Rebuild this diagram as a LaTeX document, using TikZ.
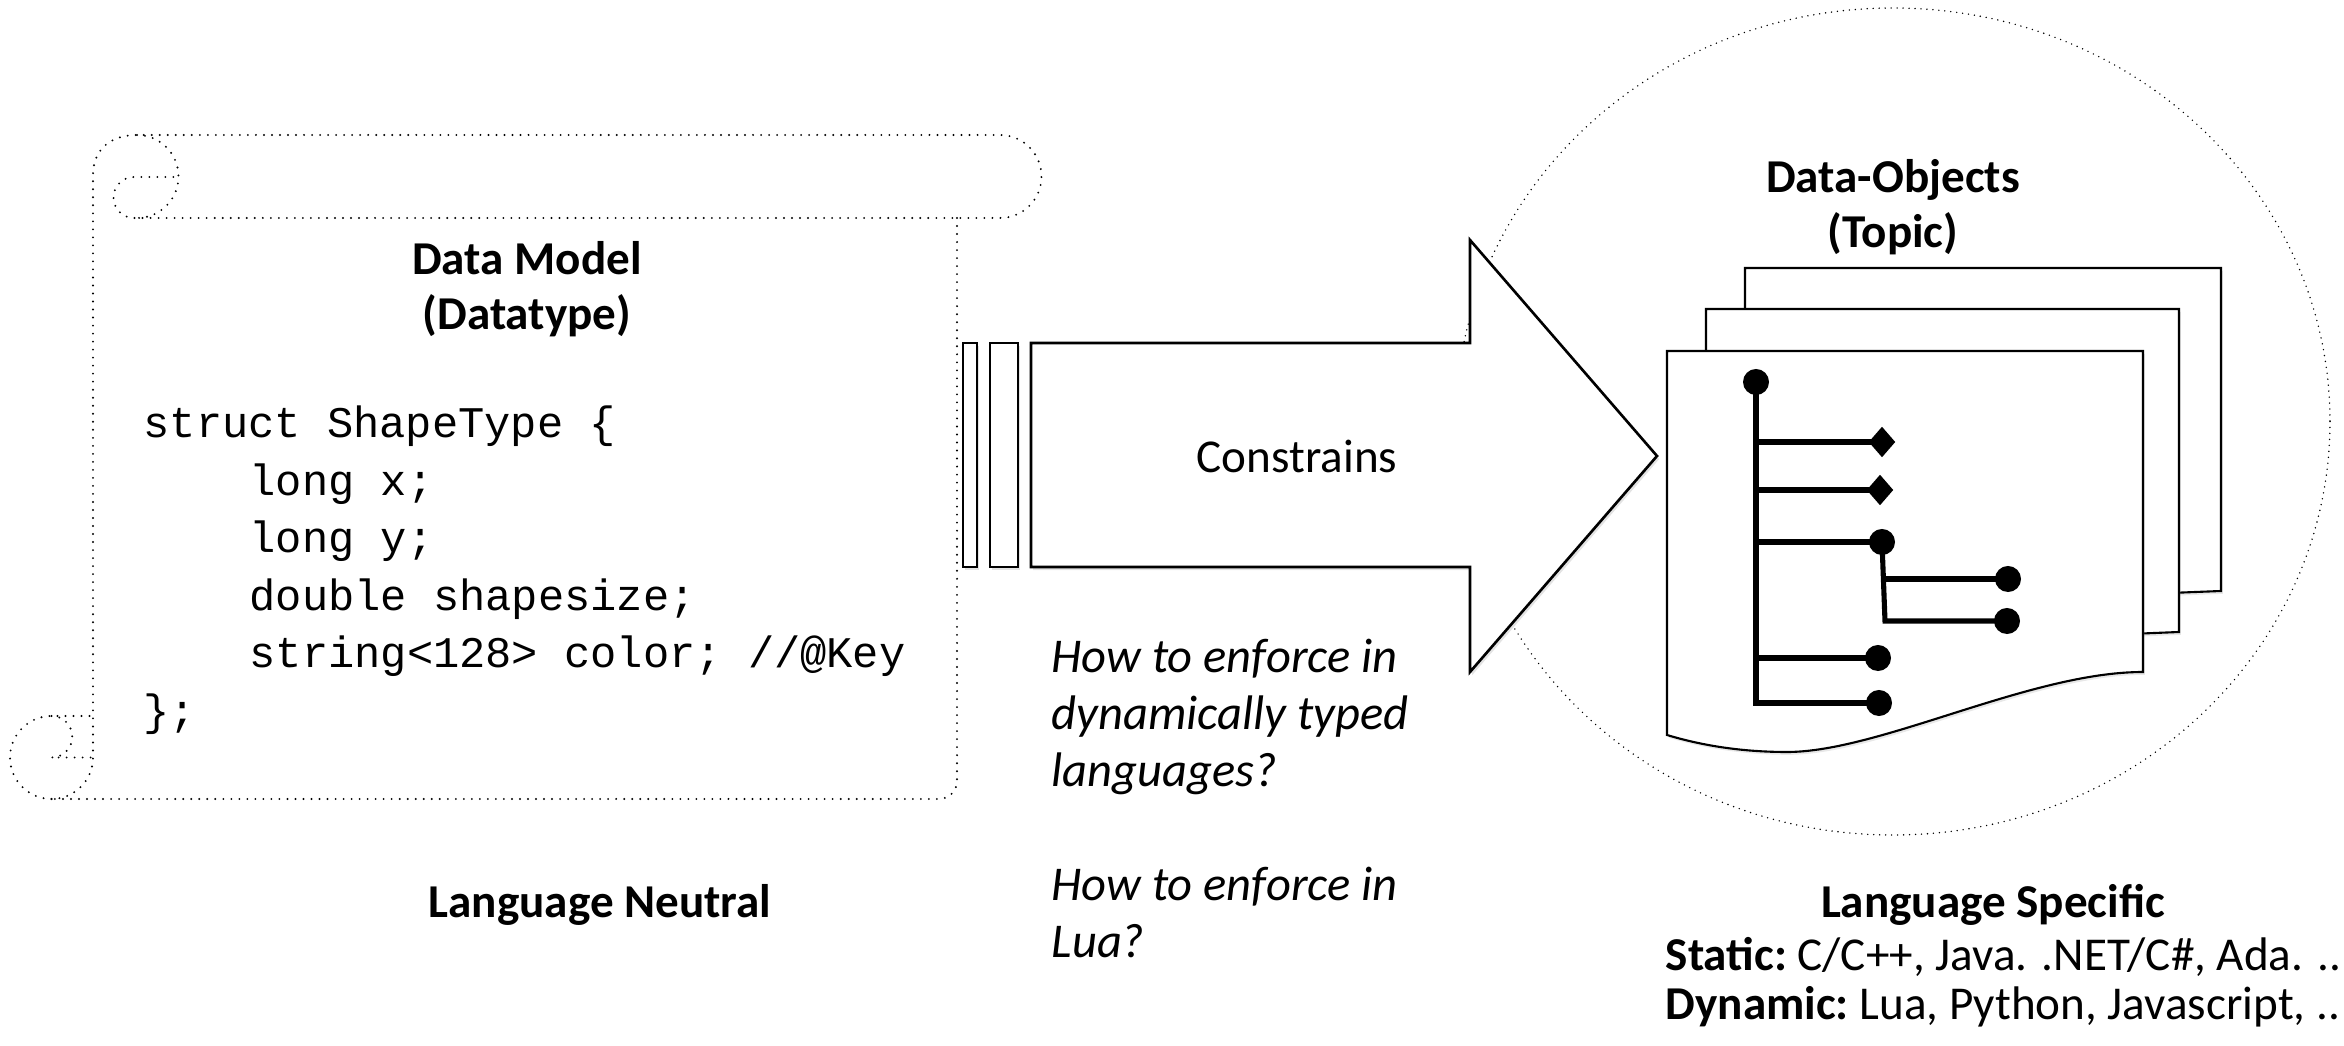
\documentclass[tikz,border=0pt]{standalone}
\usepackage{fontspec}
\setmainfont{Carlito}
\newfontfamily\codefont{Liberation Mono}
\usetikzlibrary{shapes.geometric,shadows}
\begin{document}
\begin{tikzpicture}[x=0.01cm,y=-0.01cm,
  scrolldots/.style={line width=0.6pt, dash pattern=on 0pt off 2.28pt, line cap=round},
  ringdots/.style={line width=0.45pt, dash pattern=on 0pt off 1.7pt, line cap=round},
  arrowline/.style={draw=black, line width=0.75pt, fill=white, drop shadow={opacity=0.22, shadow xshift=0.6pt, shadow yshift=-0.9pt}},
  docpage/.style={draw=black, line width=0.6pt, fill=white, drop shadow={opacity=0.18, shadow xshift=0.5pt, shadow yshift=-0.8pt}},
  branch/.style={line width=1.45pt},
  leafdot/.style={circle, fill=black, inner sep=0pt, minimum size=0.26cm},
  leafdiam/.style={diamond, fill=black, inner sep=0pt, minimum width=0.27cm, minimum height=0.31cm},
  title/.style={font=\fontsize{13.4pt}{16pt}\selectfont\bfseries, anchor=base, inner sep=0pt},
  plain/.style={font=\fontsize{13.4pt}{16pt}\selectfont, anchor=base west, inner sep=0pt},
  ital/.style={font=\fontsize{13.8pt}{16pt}\selectfont\itshape, anchor=base west, inner sep=0pt},
  code/.style={font=\fontsize{12.43pt}{16pt}\codefont, anchor=base west, inner sep=0pt},
]
\useasboundingbox (0,0) rectangle (2344,1046);

% ---------- scroll (data model) ----------
\draw[scrolldots] (51.5,799) arc[start angle=90, end angle=0, radius=41.5]
   -- (93,175) .. controls (93,150) and (110,135) .. (137,135) -- (1000,135)
   arc[start angle=-90, end angle=90, radius=41.5] -- (134,218)
   arc[start angle=90, end angle=270, radius=20.5] -- (178,177);
\draw[scrolldots] (137,135) arc[start angle=-90, end angle=90, radius=41.5];
\draw[scrolldots, rounded corners=0.18cm] (957,218) -- (957,799) -- (51.5,799);
\draw[scrolldots] (51.5,799) arc[start angle=90, end angle=270, radius=41.5] -- (93,716);
\draw[scrolldots] (51.5,716) arc[start angle=-90, end angle=90, radius=20.75] -- (93,757.5);

\node[title] (dm1) at (527,275) {Data Model};
\node[title] (dm2) at (527,330) {(Datatype)};
\node[code] (c1) at (143,438) {struct ShapeType \{};
\node[code] (c2) at (249,495.5) {long x;};
\node[code] (c3) at (249,553) {long y;};
\node[code] (c4) at (249,610.5) {double shapesize;};
\node[code] (c5) at (249,668) {string<128> color; //@Key};
\node[code] (c6) at (143,725.5) {\};};

% ---------- ring ----------
\draw[ringdots] (1893,421.5) ellipse [x radius=437, y radius=413.5];

% ---------- arrow ----------
\draw[arrowline] (963,343) rectangle (977,567);
\draw[arrowline] (990,343) rectangle (1018,567);
\draw[arrowline] (1031,343) -- (1470,343) -- (1470,240) -- (1657,456)
   -- (1470,672) -- (1470,567) -- (1031,567) -- cycle;
\node[plain, anchor=base] (con) at (1297,473) {Constrains};

% ---------- documents ----------
\draw[docpage] (1745,600) -- (1745,268) -- (2221,268) -- (2221,591) -- (2170,593) -- cycle;
\draw[docpage] (1706,640) -- (1706,309) -- (2179,309) -- (2179,632) -- (2130,634) -- cycle;
\draw[docpage] (1667,735) -- (1667,351) -- (2143,351) -- (2143,672)
   .. controls (2030,672) and (1880,752) .. (1787,752)
   .. controls (1740,752) and (1700,745) .. (1667,735) -- cycle;

% tree
\coordinate (trunkb) at (1756,703);
\coordinate (j1) at (1756,442);
\coordinate (j2) at (1756,490);
\coordinate (j3) at (1756,542);
\coordinate (j4) at (1756,658);
\coordinate (s1) at (1884,579);
\coordinate (s2) at (1885,621);
\node[leafdot] (root) at (1756,382) {};
\node[leafdiam] (m1) at (1882,442) {};
\node[leafdiam] (m2) at (1880,490) {};
\node[leafdot] (m3) at (1882,542) {};
\node[leafdot] (m31) at (2008,579) {};
\node[leafdot] (m32) at (2007,621) {};
\node[leafdot] (m4) at (1878,658) {};
\node[leafdot] (m5) at (1879,703) {};
\draw[branch] (root.center) -- (trunkb) -- (m5.center);
\draw[branch] (j1) -- (m1.center);
\draw[branch] (j2) -- (m2.center);
\draw[branch] (j3) -- (m3.center);
\draw[branch] (j4) -- (m4.center);
\draw[branch] (m3.center) -- (s2) -- (m32.center);
\draw[branch] (s1) -- (m31.center);

\node[title] (do1) at (1893,193) {Data-Objects};
\node[title] (do2) at (1893,248) {(Topic)};

% ---------- bottom texts ----------
\node[ital] (q1) at (1051,673) {How to enforce in};
\node[ital] (q2) at (1051,730) {dynamically typed};
\node[ital] (q3) at (1051,787) {languages?};
\node[ital] (q4) at (1051,901) {How to enforce in};
\node[ital] (q5) at (1051,958) {Lua?};

\node[title] (ln) at (600,918) {Language Neutral};
\node[title] (ls) at (1993,918) {Language Specific};
\node[plain] (st) at (1665,970) {\textbf{Static:}\ C/C++, Java. .NET/C\#, Ada. ..};
\node[plain] (dy) at (1665,1020) {\textbf{Dynamic:}\ Lua, Python, Javascript, ..};
\end{tikzpicture}
\end{document}
